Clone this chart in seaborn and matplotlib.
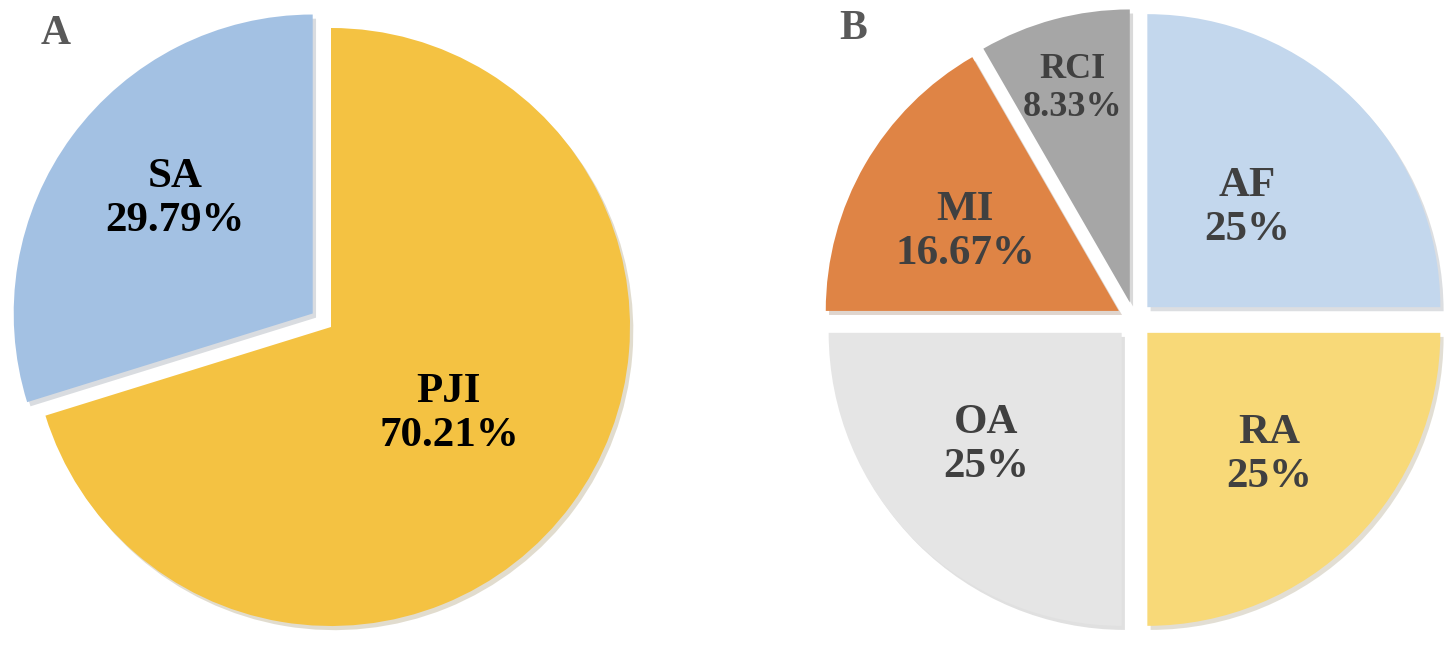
import numpy as np
import matplotlib
matplotlib.use('Agg')
import matplotlib.pyplot as plt
import seaborn as sns

# data
a_labels = ['PJI', 'SA']
a_values = [70.21, 29.79]
a_text = ['70.21%', '29.79%']
a_colors = ['#F4C242', '#A3C1E3']

b_labels = ['AF', 'RA', 'OA', 'MI', 'RCI']
b_values = [25, 25, 25, 16.67, 8.33]
b_text = ['25%', '25%', '25%', '16.67%', '8.33%']
b_colors = ['#C3D7ED', '#F8D978', '#E5E5E5', '#DF8445', '#A6A6A6']

sns.set_theme(style='white')
plt.rcParams['font.family'] = ['Liberation Serif', 'DejaVu Serif']

W, H = 1455, 646
fig = plt.figure(figsize=(W / 100, H / 100), dpi=100)


def fit_axes(ax, rect, cx, cy, r):
    # limits so that pie radius 1 = r pixels, pie centre at (cx, cy) px
    x0 = rect[0] * W
    x1 = (rect[0] + rect[2]) * W
    ax.set_aspect('auto')
    ax.set_xlim((x0 - cx) / r, (x1 - cx) / r)
    ax.set_ylim((cy - H) / r, cy / r)
    ax.set_axis_off()


def draw_pie(ax, values, colors, explode, names, pcts, dists, shifts, sizes, tcolor):
    wedges, _ = ax.pie(values, colors=colors, explode=explode, startangle=90,
                       counterclock=False, radius=1.0, normalize=True,
                       wedgeprops={'linewidth': 0},
                       shadow={'ox': 0.008, 'oy': -0.01, 'shade': 0.5, 'alpha': 0.22})
    for w, e, n, p, d, a, s in zip(wedges, explode, names, pcts, dists, shifts, sizes):
        # label angle: slice middle plus a small tweak
        mid = np.deg2rad((w.theta1 + w.theta2) / 2 + a)
        rr = e + d
        ax.text(rr * np.cos(mid), rr * np.sin(mid), n + '\n' + p,
                ha='center', va='center', fontsize=s, fontweight='bold',
                color=tcolor, linespacing=1.2)


# panel A
rectA = [0, 0, 0.5, 1]
axA = fig.add_axes(rectA)
draw_pie(axA, a_values, a_colors, [0, 0.076], a_labels, a_text,
         [0.49, 0.6], [0, -3], [31, 31], 'black')
fit_axes(axA, rectA, 331, 327, 299)

# panel B
rectB = [0.5, 0, 0.5, 1]
axB = fig.add_axes(rectB)
draw_pie(axB, b_values, b_colors, [0.062] * 5, b_labels, b_text,
         [0.48, 0.59, 0.6, 0.59, 0.755], [0, 0, -5, 2.5, 0],
         [31, 31, 31, 31, 26], '#404040')
fit_axes(axB, rectB, 1134.5, 320, 293)

fig.text(55.5 / W, 1 - 34 / H, 'A', fontsize=30, fontweight='bold',
         color='#595959', ha='center', va='center')
fig.text(853 / W, 1 - 29 / H, 'B', fontsize=30, fontweight='bold',
         color='#595959', ha='center', va='center')

fig.savefig('out.png', dpi=100, facecolor='white')
